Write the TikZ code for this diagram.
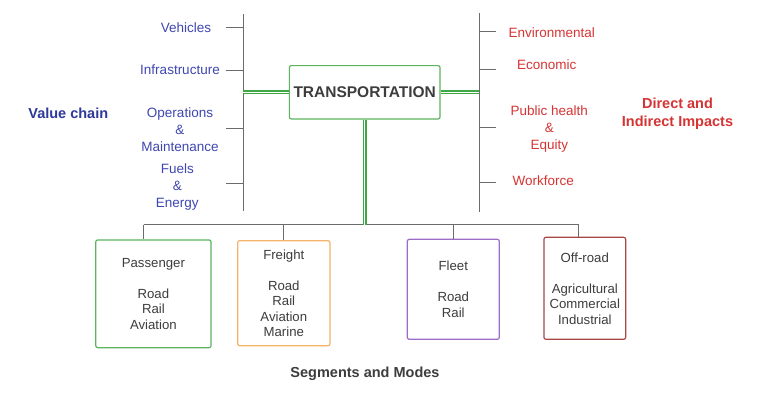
\documentclass[tikz,border=0pt]{standalone}
\usepackage{fontspec}
\setmainfont{Liberation Sans}
\definecolor{tgreen}{HTML}{5DB35F}
\definecolor{tdgreen}{HTML}{3FA845}
\definecolor{torange}{HTML}{F4B36A}
\definecolor{tpurple}{HTML}{9C6CC6}
\definecolor{tdred}{HTML}{A94646}
\definecolor{tblue}{HTML}{3E47B0}
\definecolor{tdblue}{HTML}{2F399B}
\definecolor{tred}{HTML}{D63434}
\definecolor{tgray}{HTML}{6B6B6B}
\definecolor{ttext}{HTML}{3D3D3D}
\begin{document}
\begin{tikzpicture}[x=1pt,y=-1pt,
  gline/.style={draw=tgray, line width=1pt},
  dbl/.style={draw=tdgreen, line width=1.4pt, double=white, double distance=1pt},
  segbox/.style={draw, line width=1.2pt, rounded corners=2pt, inner sep=0pt, align=center, text=ttext,
    font=\fontsize{13.2}{15.5}\selectfont},
  lbl/.style={inner sep=0pt, align=center, text=tblue, font=\fontsize{13.5}{16.7}\selectfont},
  rlbl/.style={inner sep=0pt, align=center, text=tred, font=\fontsize{13.5}{16.7}\selectfont},
  head/.style={inner sep=0pt, align=center, font=\bfseries\fontsize{14.5}{18.3}\selectfont}]
\useasboundingbox (0,0) rectangle (768,404);
\fill[white] (0,0) rectangle (768,404);

% main box
\node[draw=tgreen, line width=1.2pt, rounded corners=2pt, minimum width=150.7pt, minimum height=53.3pt,
  inner sep=0pt, text=ttext, font=\bfseries\fontsize{15.5}{18}\selectfont] (T) at (364.7,92.3) {TRANSPORTATION};

% vertical lines
\coordinate (LT) at (243,14);
\coordinate (LB) at (243,211);
\coordinate (RT) at (479.3,13);
\coordinate (RB) at (479.3,212);
\draw[gline] (LT) -- (LB);
\draw[gline] (RT) -- (RB);

% left labels
\node[lbl] (veh) at (186,27.7) {Vehicles};
\node[lbl] (inf) at (180,70) {Infrastructure};
\node[lbl] (ops) at (180,129.5) {Operations\\\&\\Maintenance};
\node[lbl] (fue) at (177.3,187) {Fuels\\\&\\Energy};
\node[head, text=tdblue] (vc) at (68.3,113.3) {Value chain};

% left ticks
\foreach \yy/\nm in {28/a,70.7/b,128.7/c,183/d}{
  \coordinate (lt\nm) at (226,\yy);
  \draw[gline] (lt\nm) -- (lt\nm -| LT);
}

% right labels
\node[rlbl] (env) at (551.7,32.3) {Environmental};
\node[rlbl] (eco) at (546.7,65) {Economic};
\node[rlbl] (pub) at (549.3,129.2) {Public health\\\&\\Equity};
\node[rlbl] (wor) at (543.3,181) {Workforce};
\node[head, text=tred] (imp) at (677.5,114) {Direct and\\Indirect Impacts};

% right ticks
\foreach \yy/\nm in {31.7/a,70/b,127.7/c,182.3/d}{
  \coordinate (rt\nm) at (495.7,\yy);
  \draw[gline] (rt\nm) -- (rt\nm -| RT);
}

% segment boxes
\node[segbox, draw=tgreen, minimum width=115.3pt, minimum height=107.7pt] (P) at (153.4,293.8)
  {Passenger\\[15.5pt]Road\\Rail\\Aviation};
\node[segbox, draw=torange, minimum width=92.3pt, minimum height=105pt] (F) at (283.8,293.2)
  {Freight\\[15.5pt]Road\\Rail\\Aviation\\Marine};
\node[segbox, draw=tpurple, minimum width=92pt, minimum height=100pt] (FL) at (453.3,289.3)
  {Fleet\\[15.5pt]Road\\Rail};
\node[segbox, draw=tdred, minimum width=81.7pt, minimum height=102pt] (O) at (584.8,288.3)
  {Off-road\\[15.5pt]Agricultural\\Commercial\\Industrial};

\node[head, text=ttext] (seg) at (365,373.3) {Segments and Modes};

% bus
\coordinate (busL) at (143.5,224.5);
\coordinate (busR) at (578.7,224.5);
\draw[gline] (busL) -- (busR);
\draw[gline] (busL) -- (busL |- P.north);
\draw[gline] (F.north |- busL) -- (F.north);
\draw[gline] (FL.north |- busL) -- (FL.north);
\draw[gline] (busR) -- (busR |- O.north);

% double green connectors
\draw[dbl] (T.west) -- (T.west -| LT);
\draw[dbl] (T.east) -- (T.east -| RT);
\draw[dbl] (T.south) -- (T.south |- busL);
\end{tikzpicture}
\end{document}
